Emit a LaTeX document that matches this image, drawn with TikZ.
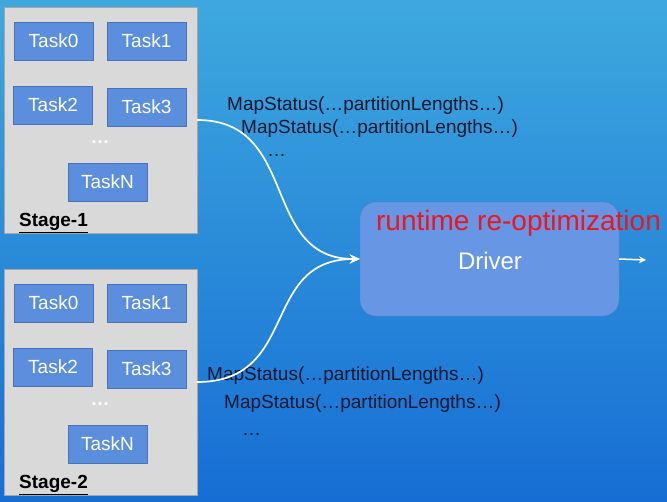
\documentclass[tikz,border=0pt]{standalone}
\usepackage{fontspec}
\setmainfont{Liberation Sans}
\usetikzlibrary{arrows.meta}

\definecolor{bgtop}{RGB}{62,168,222}
\definecolor{bgbot}{RGB}{22,110,212}
\definecolor{stagegray}{RGB}{217,217,217}
\definecolor{taskblue}{RGB}{91,143,222}
\definecolor{taskedge}{RGB}{70,115,185}
\definecolor{drvblue}{RGB}{102,150,228}
\definecolor{msgink}{RGB}{12,24,48}
\definecolor{optred}{RGB}{240,20,30}

\tikzset{
  stagebox/.style={draw=gray!70, fill=stagegray, minimum width=193pt, minimum height=226pt, inner sep=0pt},
  taskbox/.style={draw=taskedge, fill=taskblue, minimum width=79pt, minimum height=38pt, inner sep=0pt, text=white, font=\fontsize{19}{22}\selectfont},
  msg/.style={anchor=west, inner sep=0pt, text=msgink, font=\fontsize{19}{22}\selectfont},
  flow/.style={white, line width=1.7pt, -{Stealth[length=10pt,width=9pt]}},
}

\begin{document}
\begin{tikzpicture}[x=1pt,y=-1pt]
			\useasboundingbox (0,0) rectangle (667,501);
			\shade[top color=bgtop, bottom color=bgbot] (0,0) rectangle (667,501);

			\foreach \s/\dy in {1/0,2/262} {
				\node[stagebox] (s\s) at (100.5,120+\dy) {};
				\node[taskbox] (t\s0) at (53.5,41+\dy) {Task0};
				\node[taskbox] (t\s1) at (146.5,41+\dy) {Task1};
				\node[taskbox] (t\s2) at (53,105+\dy) {Task2};
				\node[taskbox] (t\s3) at (146.5,107+\dy) {Task3};
				\node[taskbox] (t\s n) at (107.5,182+\dy) {TaskN};
				\node[text=white, inner sep=0pt, font=\fontsize{19}{22}\selectfont\bfseries] (dots\s) at (100,142+\dy) {…};
				\node[anchor=west, inner sep=0pt, font=\fontsize{19}{22}\selectfont\bfseries] (lab\s) at (19,223+\dy) {\underline{Stage-\s}};
			}

			\node[draw=drvblue!85!black, fill=drvblue, rounded corners=16pt, minimum width=259pt, minimum height=114pt] (drv) at (489.5,259) {};
			\node[text=white, font=\fontsize{24}{28}\selectfont] (drvlab) at (490,261) {Driver};
			\node[text=optred, font=\fontsize{28}{32}\selectfont] (reopt) at (518.5,223) {runtime re-optimization};

			\node[msg] (m1a) at (227,106) {MapStatus(…partitionLengths…)};
			\node[msg] (m1b) at (241,129) {MapStatus(…partitionLengths…)};
			\node[msg] (m1c) at (267,155) {…};
			\node[msg] (m2a) at (207,376) {MapStatus(…partitionLengths…)};
			\node[msg] (m2b) at (224,404) {MapStatus(…partitionLengths…)};
			\node[msg] (m2c) at (242,434) {…};

			\draw[flow] (s1.east) .. controls +(103,0) and +(-100,0) .. (drv.west);
			\draw[flow] (s2.east) .. controls +(103,0) and +(-100,0) .. (drv.west);
			\coordinate (out) at (646,260);
			\draw[white, line width=1.5pt, -{Stealth[length=7pt,width=7pt]}] (drv.east) -- (out);
		\end{tikzpicture}
\end{document}
